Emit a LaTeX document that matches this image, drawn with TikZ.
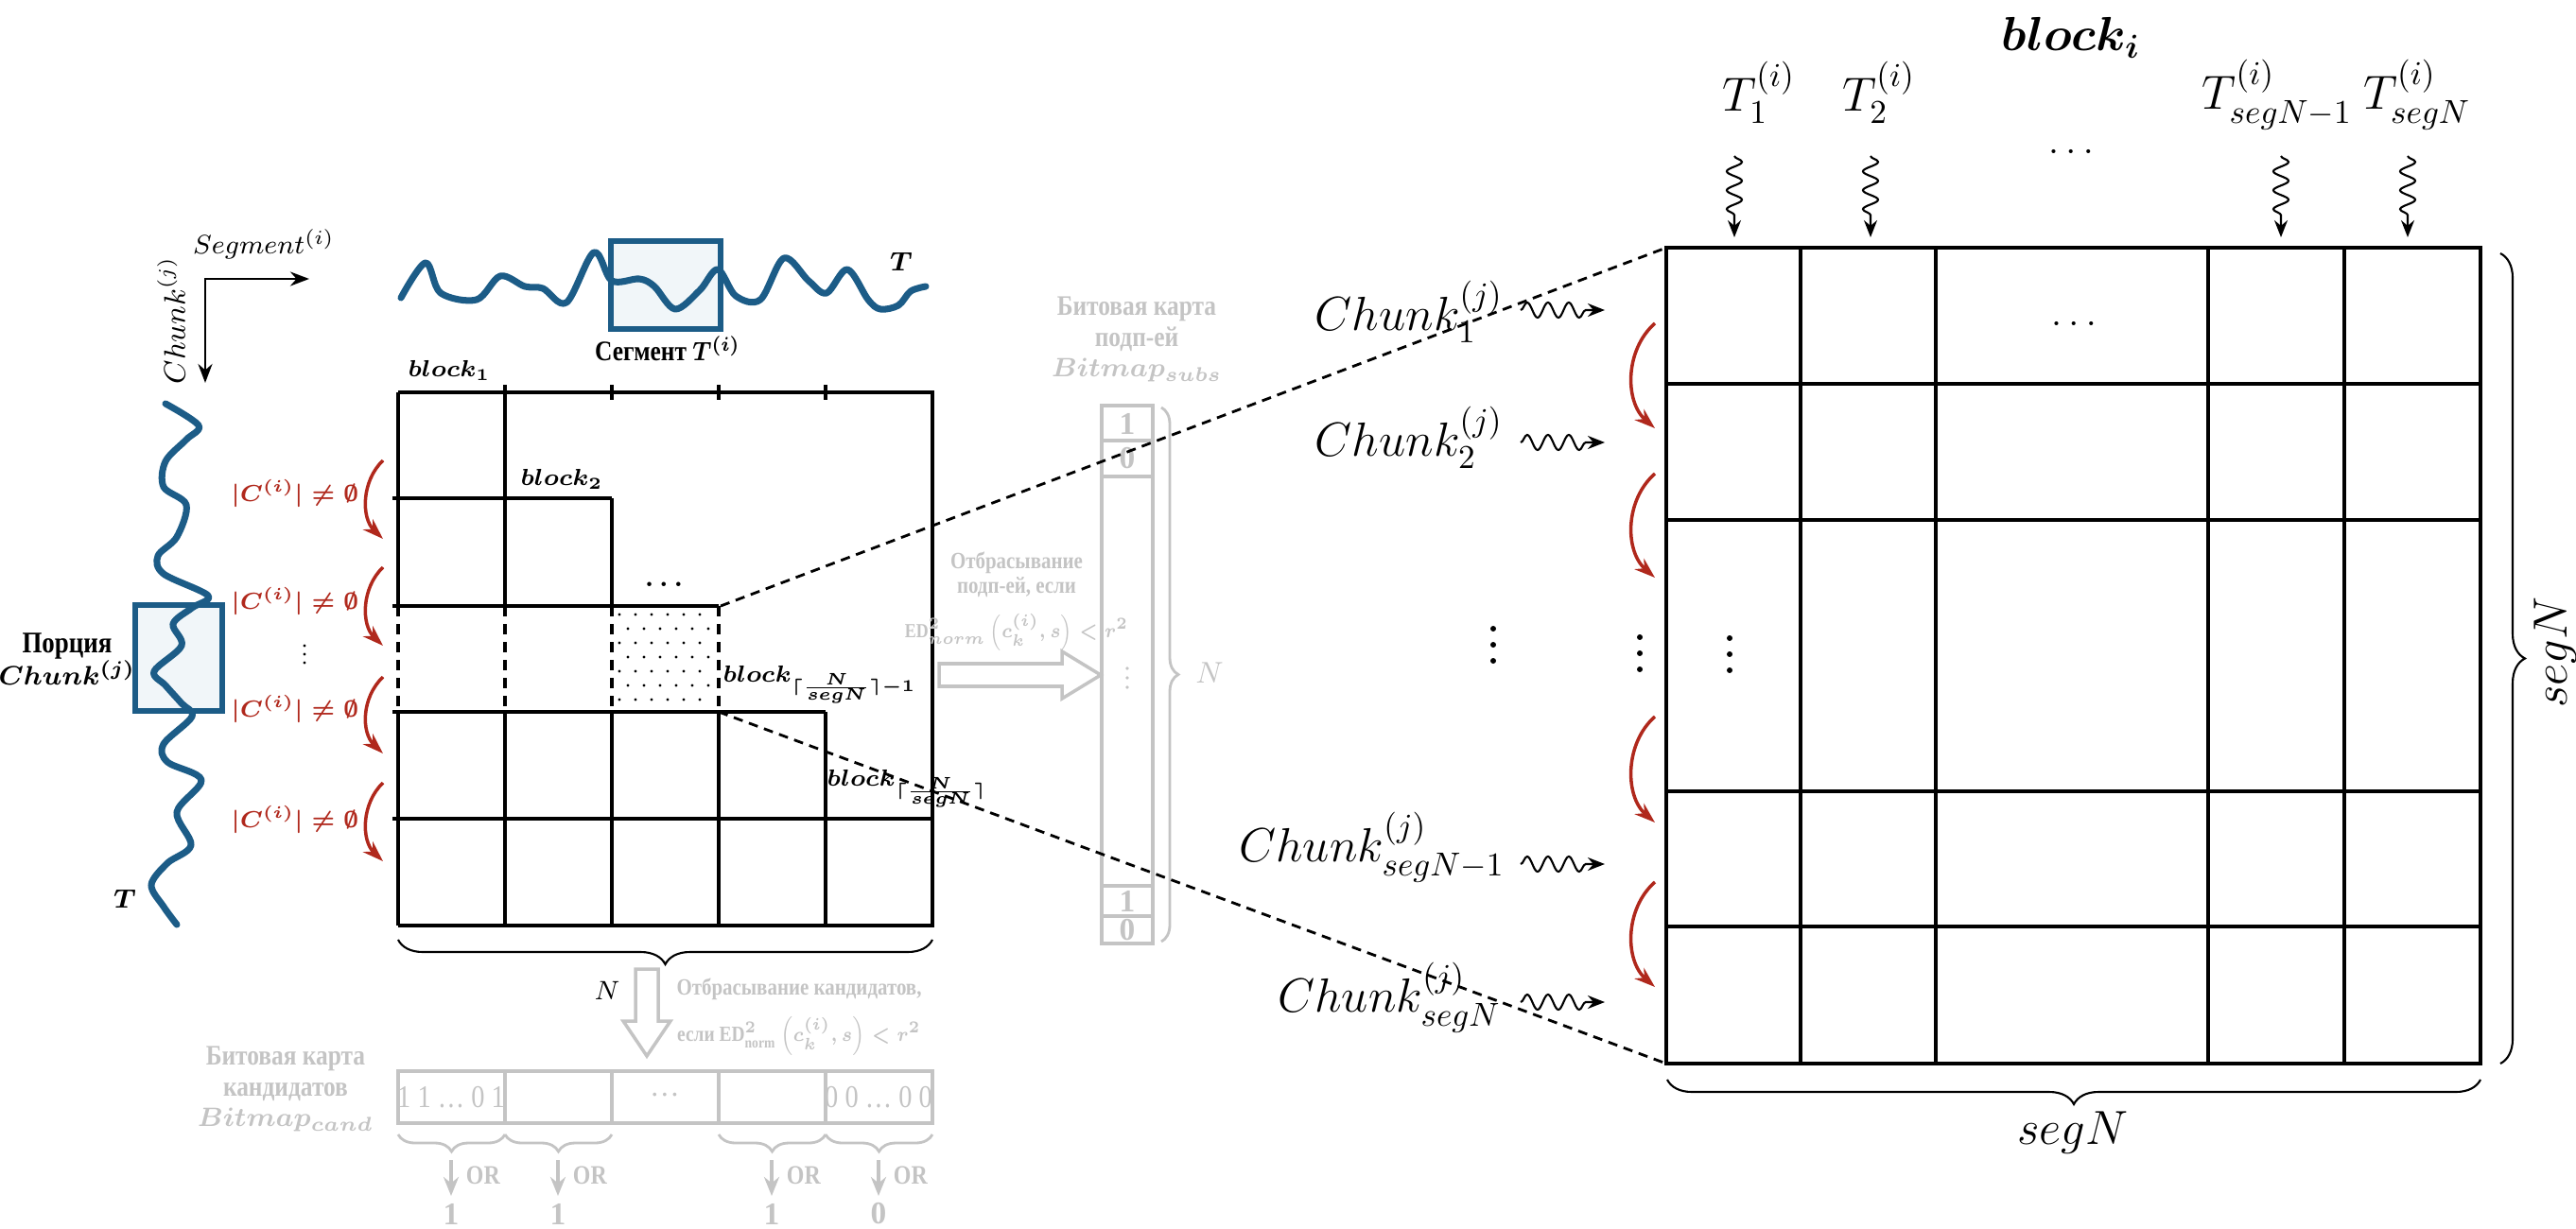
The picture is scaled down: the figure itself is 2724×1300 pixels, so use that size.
\documentclass[tikz,border=0pt]{standalone}
\usepackage{fontspec}
\setmainfont{Liberation Serif}
\usepackage{amsmath,amssymb,bm,graphicx}
\usetikzlibrary{decorations.pathreplacing,decorations.pathmorphing,arrows.meta}
\definecolor{tsblue}{RGB}{28,92,135}
\definecolor{tsfill}{RGB}{241,246,249}
\definecolor{cred}{RGB}{176,40,28}
\definecolor{greyc}{RGB}{196,196,196}
\newcommand{\fsz}[1]{\fontsize{#1pt}{#1pt}\selectfont}
\newcommand{\fszb}[2]{\fontsize{#1pt}{#2pt}\selectfont}
\newcommand{\cond}[1]{\scalebox{0.85}[1]{#1}}
% three stacked dots: x, top y, step, radius, colour
\newcommand{\vdotsdraw}[5]{\foreach \k in {0,1,2} \fill[#5] (#1,{#2+\k*#3}) circle (#4);}
\tikzset{
  gridline/.style={line width=0.9pt,black},
  gridgrey/.style={line width=1pt,greyc},
  dashgrid/.style={line width=0.9pt,black,dash pattern=on 1.1mm off 0.8mm},
  conn/.style={line width=0.8pt,black,dash pattern=on 1mm off 0.7mm},
  series/.style={line width=2pt,tsblue,line cap=round,line join=round},
  framebox/.style={line width=1.6pt,draw=tsblue,fill=tsfill},
  redarr/.style={line width=1pt,cred,-{Stealth[length=2.2mm,width=1.5mm]}},
  wavy/.style={line width=0.6pt,black,decorate,decoration={snake,amplitude=0.8mm,segment length=2mm,post length=1.4mm},-{Stealth[length=1.8mm,width=1.4mm]}},
  bracebig/.style={decorate,decoration={brace,amplitude=2.6mm},line width=0.6pt},
  bracegrey/.style={decorate,decoration={brace,amplitude=1.8mm},line width=0.8pt,greyc},
  hollow/.style={line width=1pt,draw=greyc,fill=white},
  greytxt/.style={text=greyc,inner sep=0pt},
  greyarr/.style={greyc,line width=1pt,-{Stealth[length=2mm,width=1.6mm]}},
}
\begin{document}
\begin{tikzpicture}[x=0.01cm,y=-0.01cm]
\useasboundingbox (0,0) rectangle (2724,1300);

% ---------------- left: axes ----------------
\node[font=\fsz{8}] (seglab) at (279,258) {$Segment^{(i)}$};
\coordinate (axc) at (217,295);
\coordinate (axh) at (327,295);
\coordinate (axv) at (217,405);
\draw[line width=0.8pt,{Stealth[length=2mm,width=1.5mm]}-{Stealth[length=2mm,width=1.5mm]}] (axh) -- (axc) -- (axv);
\node[font=\fsz{9},rotate=90] (chklab) at (181,339) {$Chunk^{(j)}$};

% ---------------- top series ----------------
\draw[framebox] (646,255) rectangle (762,348);
\draw[series] plot[smooth,tension=0.55] coordinates {
(424,315) (450,278) (466,310) (504,317) (529,292) (555,303) (574,305) (599,320)
(628,267) (647,297) (676,295) (692,303) (714,327) (740,307) (759,285) (778,313)
(804,317) (829,273) (855,297) (874,310) (896,285) (918,317) (931,327) (950,323)
(963,308) (979,303)};
\node[font=\fsz{8.5}] (seglabel) at (706,369) {\cond{\textbf{Сегмент} {\boldmath$T^{(i)}$}}};
\node[font={\fsz{8.5}\boldmath}] (Ttop) at (953,277) {$T$};

% ---------------- vertical series ----------------
\draw[framebox] (143,640) rectangle (235,752);
\draw[series] plot[smooth,tension=0.55] coordinates {
(175,427) (210,450) (197,465) (175,488) (173,515) (197,534) (187,568) (167,588)
(173,607) (220,630) (203,643) (183,660) (192,683) (163,710) (175,725) (192,744)
(203,758) (173,787) (177,806) (213,825) (187,859) (202,894) (177,913) (160,936)
(173,959) (187,978)};
\node[font=\fszb{9}{9.6},align=center,inner sep=0pt] (porc) at (71,697) {\cond{\textbf{Порция}}\\{\fsz{8}\boldmath$Chunk^{(j)}$}};
\node[font={\fsz{8.5}\boldmath}] (Tleft) at (132,951) {$T$};

% ---------------- left matrix ----------------
\node[font={\fsz{7}\boldmath}] (b1) at (475,392) {$block_1$};
\node[font={\fsz{7}\boldmath}] (b2) at (594,507) {$block_2$};
\draw[gridline] (421,415) -- (986,415) -- (986,979) -- (421,979);
\foreach \x in {421,534} {
  \draw[gridline] (\x,415) -- (\x,641);
  \draw[dashgrid] (\x,641) -- (\x,753);
  \draw[gridline] (\x,753) -- (\x,979);
}
\draw[gridline] (534,407) -- (534,415);
\foreach \x in {647,760,873} \draw[gridline] (\x,407) -- (\x,423);
\draw[gridline] (647,527) -- (647,641);
\draw[dashgrid] (647,641) -- (647,753);
\draw[gridline] (647,753) -- (647,979);
\draw[dashgrid] (760,641) -- (760,753);
\draw[gridline] (760,753) -- (760,979);
\draw[gridline] (873,753) -- (873,979);
\draw[gridline] (415,527) -- (647,527);
\draw[gridline] (415,641) -- (760,641);
\draw[gridline] (415,753) -- (873,753);
\draw[gridline] (415,866) -- (986,866);
% dotted block
\foreach \r in {0,...,6} {
  \foreach \c in {0,...,5} {
    \fill ({655+\c*17+mod(\r,2)*9},{650+\r*15}) circle (0.45pt);
  }
}
\node[font={\fsz{8}\boldmath}] (ldots) at (702,618) {$\ldots$};
\node[font={\fsz{7.5}\boldmath},anchor=west,inner sep=0pt] (bm1) at (764,724) {$block_{\scriptscriptstyle\lceil\frac{N}{segN}\rceil-1}$};
\node[font={\fsz{7.5}\boldmath},anchor=west,inner sep=0pt] (bm) at (874,834) {$block_{\scriptscriptstyle\lceil\frac{N}{segN}\rceil}$};

% red labels and arrows
\foreach \y/\n in {522/1,636/2,750/3,867/4}
  \node[text=cred,font={\fsz{7.5}\boldmath}] (cl\n) at (312,\y) {$|C^{(i)}|\neq\emptyset$};
\vdotsdraw{322}{683}{9}{1.6}{black}
\foreach \a/\b in {487/570,600/683,716/797,828/911}
  \draw[redarr] (405,\a) .. controls (382,{\a+22}) and (382,{\b-22}) .. (405,\b);

% bottom brace and N
\draw[bracebig] (986,994) -- (421,994);
\node[font=\fsz{8.5}] (Nlab) at (642,1048) {$N$};

% hollow down arrow
\draw[hollow] (672,1025) -- (696,1025) -- (696,1080) -- (709,1080) -- (684,1117) -- (659,1080) -- (672,1080) -- cycle;
\node[greytxt,font=\fszb{7}{8.4},align=center] (disc) at (845,1076) {\cond{\textbf{Отбрасывание кандидатов,}}\\[4pt]{\fsz{6.5}\boldmath\cond{\textbf{если} $\mathrm{ED}^2_{\mathrm{norm}}\left(c_k^{(i)},s\right)<r^2$}}};

% bitmap cand
\node[greytxt,font=\fszb{8.5}{9.3},align=center] (bct) at (302,1152) {\cond{\textbf{Битовая карта}}\\\cond{\textbf{кандидатов}}\\{\fsz{8}\boldmath$Bitmap_{cand}$}};
\draw[gridgrey] (421,1133) rectangle (986,1188);
\foreach \x in {534,647,760,873} \draw[gridgrey] (\x,1133) -- (\x,1188);
\node[greytxt,font=\fsz{9.5}] (c1t) at (477,1161) {\cond{1 1 … 0 1}};
\node[greytxt,font=\fsz{9}] (c3t) at (703,1158) {…};
\node[greytxt,font=\fsz{9.5}] (c5t) at (929,1161) {\cond{0 0 … 0 0}};
\draw[bracegrey] (534,1200) -- (421,1200);
\draw[bracegrey] (647,1200) -- (534,1200);
\draw[bracegrey] (873,1200) -- (760,1200);
\draw[bracegrey] (986,1200) -- (873,1200);
\foreach \x/\v/\n in {477/1/1,590/1/2,816/1/3,929/0/4} {
  \coordinate (oa\n) at (\x,1227);
  \coordinate (ob\n) at (\x,1265);
  \draw[greyarr] (oa\n) -- (ob\n);
  \node[greytxt,font=\fsz{8}] (or\n) at ({\x+34},1243) {\cond{\textbf{OR}}};
  \node[greytxt,font=\fsz{9.5}] (res\n) at (\x,1284) {\textbf{\v}};
}

% ---------------- middle: bitmap subs ----------------
\draw[hollow] (993,702) -- (1123,702) -- (1123,689) -- (1164,714) -- (1123,739) -- (1123,726) -- (993,726) -- cycle;
\node[greytxt,font=\fszb{7}{7.6},align=center] (ds) at (1075,636) {\cond{\textbf{Отбрасывание}}\\\cond{\textbf{подп-ей, если}}\\[4pt]{\fsz{6}\boldmath\cond{$\mathrm{ED}^2_{norm}\left(c_k^{(i)},s\right)<r^2$}}};
\node[greytxt,font=\fszb{8.5}{9.3},align=center] (bst) at (1202,359) {\cond{\textbf{Битовая карта}}\\\cond{\textbf{подп-ей}}\\{\fsz{8}\boldmath$Bitmap_{subs}$}};
\draw[gridgrey] (1165,429) rectangle (1219,998);
\foreach \y in {466,504,937,969} \draw[gridgrey] (1165,\y) -- (1219,\y);
\node[greytxt,font=\fsz{9.5}] (bs1) at (1192,448) {\textbf{1}};
\node[greytxt,font=\fsz{9.5}] (bs2) at (1192,485) {\textbf{0}};
\vdotsdraw{1192}{707}{10}{1.8}{greyc}
\node[greytxt,font=\fsz{9.5}] (bs3) at (1192,953) {\textbf{1}};
\node[greytxt,font=\fsz{9.5}] (bs4) at (1192,984) {\textbf{0}};
\draw[bracegrey] (1228,431) -- (1228,996);
\node[greytxt,font=\fsz{9.5}] (Nsubs) at (1279,712) {$N$};

% ---------------- right matrix ----------------
\node[font={\fsz{14.5}\boldmath}] (blocki) at (2190,40) {$block_i$};
\node[font=\fsz{14}] (T1) at (1860,98) {$T_1^{(i)}$};
\node[font=\fsz{14}] (T2) at (1987,98) {$T_2^{(i)}$};
\node[font=\fsz{14},inner sep=0pt] (T3) at (2408,100) {$T_{segN-1}^{(i)}$};
\node[font=\fsz{14},inner sep=0pt] (T4) at (2556,100) {$T_{segN}^{(i)}$};
\node[font=\fsz{12}] (tdots) at (2190,160) {$\ldots$};
\foreach \x/\n in {1834/1,1978/2,2412/3,2546/4} {
  \coordinate (ta\n) at (\x,165);
  \coordinate (tb\n) at (\x,251);
  \draw[wavy] (ta\n) -- (tb\n);
}
\draw[gridline] (1762,262) rectangle (2623,1125);
\foreach \x in {1904,2047,2335,2479} \draw[gridline] (\x,262) -- (\x,1125);
\foreach \y in {406,550,837,980} \draw[gridline] (1762,\y) -- (2623,\y);
\node[font=\fsz{12}] (rdots) at (2193,342) {$\ldots$};
\vdotsdraw{1579}{665}{17}{3}{black}
\vdotsdraw{1734}{674}{17}{3}{black}
\vdotsdraw{1829}{675}{17}{3}{black}

\node[font=\fsz{14},anchor=east,inner sep=0pt] (ch1) at (1590,330) {$Chunk_1^{(j)}$};
\node[font=\fsz{14},anchor=east,inner sep=0pt] (ch2) at (1590,463) {$Chunk_2^{(j)}$};
\node[font=\fsz{14},anchor=east,inner sep=0pt] (ch3) at (1592,896) {$Chunk_{segN-1}^{(j)}$};
\node[font=\fsz{14},anchor=east,inner sep=0pt] (ch4) at (1588,1055) {$Chunk_{segN}^{(j)}$};
\foreach \y/\n in {328/1,468/2,914/3,1060/4} {
  \coordinate (wa\n) at (1608,\y);
  \coordinate (wb\n) at (1697,\y);
  \draw[wavy,decoration={snake,amplitude=0.8mm,segment length=2.2mm,post length=1.4mm}] (wa\n) -- (wb\n);
}
\foreach \a/\b in {342/453,501/611,758/870,933/1044}
  \draw[redarr] (1750,\a) .. controls (1718,{\a+28}) and (1718,{\b-28}) .. (1750,\b);

\draw[bracebig] (2644,268) -- (2644,1125);
\node[font=\fsz{14},rotate=90] (segNr) at (2702,690) {$segN$};
\draw[bracebig] (2623,1142) -- (1763,1142);
\node[font=\fsz{14}] (segNb) at (2192,1198) {$segN$};

% ---------------- dashed zoom connectors ----------------
\coordinate (Lup) at (762,641);
\coordinate (Llo) at (760,753);
\coordinate (Rtl) at (1762,262);
\coordinate (Rbl) at (1762,1125);
\draw[conn] (Lup) -- (Rtl);
\draw[conn] (Llo) -- (Rbl);
\end{tikzpicture}
\end{document}
